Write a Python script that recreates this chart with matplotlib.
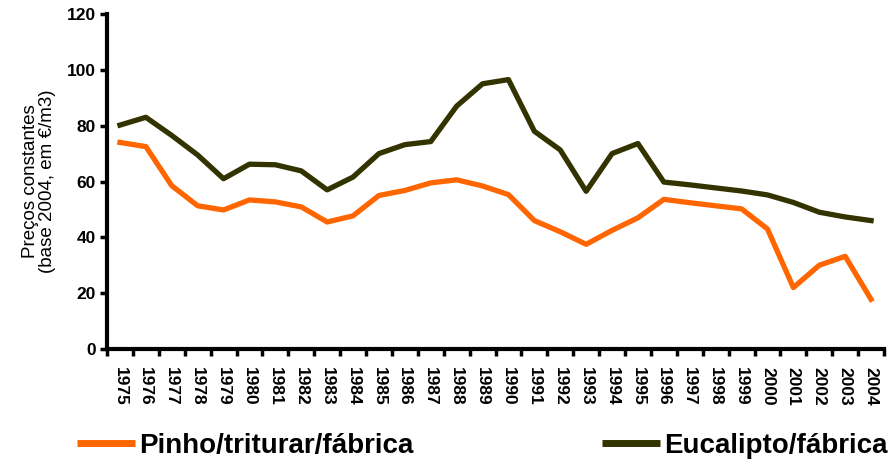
import numpy as np
import matplotlib.pyplot as plt

plt.rcParams['font.family'] = ['Liberation Sans', 'DejaVu Sans']

anos = [str(a) for a in range(1975, 2005)]
pinho = [74, 72.5, 58.5, 51.3, 49.8, 53.4, 52.7, 50.9, 45.5, 47.7,
         55, 56.8, 59.5, 60.6, 58.4, 55.3, 46, 42, 37.5, 42.5,
         47, 53.6, 52.4, 51.3, 50.2, 43, 22, 30, 33.2, 17.8]
eucalipto = [80.2, 83, 76.5, 69.5, 61, 66.2, 66, 63.8, 57, 61.6,
             70, 73.2, 74.3, 87, 95, 96.5, 78, 71.3, 56.5, 70,
             73.6, 59.8, 58.8, 57.7, 56.6, 55.2, 52.5, 49, 47.3, 46]

laranja = '#FF6600'
oliva = '#333300'

fig = plt.figure(figsize=(8.88, 4.72), dpi=100)
ax = fig.add_axes([107/888, 1-349/472, (884-107)/888, (349-14)/472])

x = np.arange(len(anos))
l1, = ax.plot(x, pinho, color=laranja, lw=3.8, label='Pinho/triturar/fábrica')
l2, = ax.plot(x, eucalipto, color=oliva, lw=3.8, label='Eucalipto/fábrica')

ax.set_xlim(-0.5, len(anos) - 0.5)
ax.set_ylim(0, 120)
ax.set_yticks(range(0, 121, 20))
# marcas nas fronteiras das categorias, rótulos no centro
ax.set_xticks(np.arange(-0.5, len(anos), 1))
ax.set_xticklabels([])
ax.set_xticks(x, minor=True)
ax.set_xticklabels(anos, minor=True, rotation=270, fontsize=12.5, fontweight='bold')
ax.tick_params(axis='x', which='minor', length=0, pad=13)
ax.tick_params(axis='x', which='major', length=5, width=2.5, direction='out')
ax.tick_params(axis='y', length=5, width=2.5, labelsize=12.5, pad=3)
for t in ax.get_yticklabels():
    t.set_fontweight('bold')

for s in ['top', 'right']:
    ax.spines[s].set_visible(False)
for s in ['left', 'bottom']:
    ax.spines[s].set_linewidth(3)

ax.set_ylabel('Preços constantes\n(base 2004, em €/m3)', fontsize=13.5, labelpad=8, linespacing=1.0)

y_leg = 1 - 446/472
for h, x0 in [(l1, 77/888), (l2, 602/888)]:
    leg = fig.legend(handles=[h], loc='center left', bbox_to_anchor=(x0, y_leg), frameon=False,
                     borderpad=0, borderaxespad=0, handlelength=2.1, handletextpad=0.15,
                     prop={'size': 20, 'weight': 'bold'})
    for ln in leg.get_lines():
        ln.set_linewidth(5)
        ln.set_solid_capstyle('butt')

fig.savefig('out.png', dpi=100)
